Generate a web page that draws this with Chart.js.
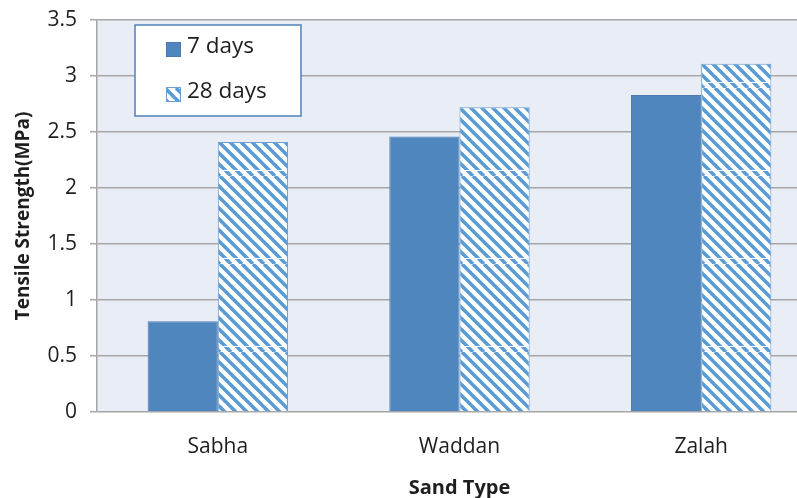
<!DOCTYPE html>
<html>
<head>
<meta charset="utf-8">
<script src="https://cdn.jsdelivr.net/npm/chart.js@4"></script>
<style>
    html, body { margin: 0; padding: 0; background: #fff; overflow: hidden; }
    #wrap { width: 822px; height: 498px; }
</style>
</head>
<body>
<div id="wrap"><canvas id="chart" width="822" height="498"></canvas></div>
<script>
// Data
const sandTypes = ['Sabha', 'Waddan', 'Zalah'];
const days7 = [0.81, 2.46, 2.83];
const days28 = [2.41, 2.72, 3.11];
const yTicks = [0, 0.5, 1, 1.5, 2, 2.5, 3, 3.5];
const seriesNames = ['7 days', '28 days'];

const FONT = "'Open Sans', 'DejaVu Sans', sans-serif";
const TEXT = '#1e1e1e';
const GRID = '#a6a6a6';

// Diagonal hatch (\\\) with the white seam row Excel leaves every tile
function makeHatch(color) {
    const c = document.createElement('canvas');
    c.width = 11;
    c.height = 88;
    const g = c.getContext('2d');
    g.fillStyle = '#fff';
    g.fillRect(0, 0, c.width, c.height);
    g.strokeStyle = color;
    g.lineWidth = 3.6;
    for (let x0 = -110; x0 <= 22; x0 += 11) {
        g.beginPath();
        g.moveTo(x0, 0);
        g.lineTo(x0 + 88, 88);
        g.stroke();
    }
    g.fillStyle = '#fff';
    g.fillRect(0, 82, 9, 1);
    return g.createPattern(c, 'repeat');
}

const hatch = makeHatch('#5b9bd5');

// plot area fill
const plotBg = {
    id: 'plotBg',
    beforeDraw(chart) {
        const { ctx, chartArea: a } = chart;
        ctx.save();
        ctx.fillStyle = '#e9edf6';
        ctx.fillRect(a.left, a.top, a.right - a.left, a.bottom - a.top);
        ctx.restore();
    }
};

// boxed legend inside the plot, top-left
const boxLegend = {
    id: 'boxLegend',
    afterDraw(chart) {
        const ctx = chart.ctx;
        ctx.save();
        ctx.fillStyle = '#fff';
        ctx.fillRect(135, 25, 166, 91);
        ctx.strokeStyle = '#4f81bd';
        ctx.lineWidth = 1.5;
        ctx.strokeRect(135, 25, 166, 91);

        chart.data.datasets.forEach((ds, i) => {
            const cy = 49 + i * 45;
            ctx.fillStyle = ds.backgroundColor;
            ctx.fillRect(166, cy - 7, 15, 15);
            ctx.strokeStyle = ds.borderColor;
            ctx.lineWidth = 1;
            ctx.strokeRect(166.5, cy - 6.5, 14, 14);
            ctx.fillStyle = TEXT;
            ctx.font = '22.5px ' + FONT;
            ctx.textBaseline = 'middle';
            ctx.textAlign = 'left';
            ctx.fillText(ds.label, 187, cy - 2);
        });
        ctx.restore();
    }
};

new Chart(document.getElementById('chart'), {
    type: 'bar',
    data: {
        labels: sandTypes,
        datasets: [
            {
                label: seriesNames[0],
                data: days7,
                backgroundColor: '#4f86bd',
                borderColor: '#4a7ab0',
                borderWidth: 1
            },
            {
                label: seriesNames[1],
                data: days28,
                backgroundColor: hatch,
                borderColor: '#6d9fd3',
                borderWidth: 1
            }
        ]
    },
    options: {
        responsive: false,
        animation: false,
        layout: { padding: { top: 20, left: 0, right: 0, bottom: 0 } },
        datasets: {
            bar: { categoryPercentage: 0.581, barPercentage: 1 }
        },
        plugins: {
            legend: { display: false },
            tooltip: { enabled: false }
        },
        scales: {
            x: {
                grid: { display: false, drawTicks: false },
                border: { display: false },
                ticks: {
                    color: TEXT,
                    padding: 22,
                    font: { family: FONT, size: 21 }
                },
                title: {
                    display: true,
                    text: 'Sand Type',
                    color: TEXT,
                    padding: { top: 0, bottom: 0 },
                    font: { family: FONT, size: 20, weight: 'bold', lineHeight: 1 }
                },
                afterFit(scale) {
                    scale.height = 86;
                    scale.paddingLeft = 0;
                    scale.paddingRight = 0;
                }
            },
            y: {
                min: yTicks[0],
                max: yTicks[yTicks.length - 1],
                afterBuildTicks(scale) {
                    scale.ticks = yTicks.map(v => ({ value: v }));
                },
                grid: {
                    color: GRID,
                    lineWidth: 1.5,
                    tickLength: 7
                },
                border: { display: true, color: GRID, width: 1.5 },
                ticks: {
                    color: TEXT,
                    padding: 13,
                    font: { family: FONT, size: 21 },
                    callback: v => String(v)
                },
                title: {
                    display: true,
                    text: 'Tensile Strength(MPa)',
                    color: TEXT,
                    padding: { top: 12, bottom: 0 },
                    font: { family: FONT, size: 19, weight: 'bold' }
                },
                afterFit(scale) {
                    scale.width = 97;
                    scale.paddingTop = 0;
                    scale.paddingBottom = 0;
                }
            }
        }
    },
    plugins: [plotBg, boxLegend]
});
</script>
</body>
</html>
